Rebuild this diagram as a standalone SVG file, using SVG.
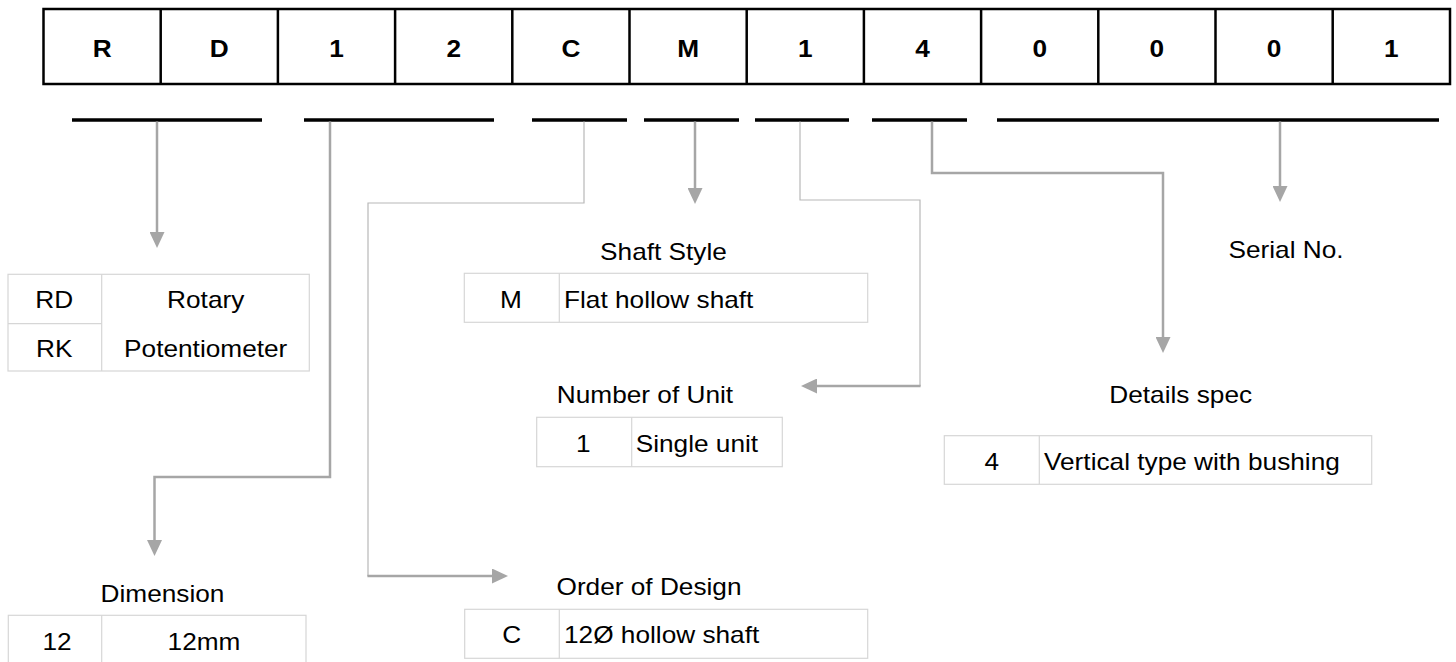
<svg xmlns="http://www.w3.org/2000/svg" width="1456" height="662" viewBox="0 0 1456 662">
<style>
text{font-family:"Liberation Sans",Arial,sans-serif;font-size:23px;fill:#000}
.b{font-weight:bold}
.m{text-anchor:middle}
.cell{fill:#fff;stroke:#000;stroke-width:2.5}
.bar{stroke:#000;stroke-width:3.6}
.tb{fill:#fff;stroke:#d6d6d6;stroke-width:1.2}
.tl{stroke:#d6d6d6;stroke-width:1.2}
.ct{fill:none;stroke:#a6a6a6;stroke-width:2.5}
.cn{fill:none;stroke:#b8b8b8;stroke-width:1.2}
</style>
<defs>
<marker id="ah" markerUnits="userSpaceOnUse" markerWidth="16" markerHeight="15" refX="0" refY="7.5" orient="auto" viewBox="0 0 16 15">
<path d="M0,0 L16,7.5 L0,15 z" fill="#a6a6a6"/>
</marker>
</defs>
<rect width="1456" height="662" fill="#fff"/>
<g id="code">
<rect class="cell" x="43.5" y="9" width="1406.5" height="75"/>
<path class="cell" d="M160.7,9V84M277.9,9V84M395.1,9V84M512.3,9V84M629.5,9V84M746.7,9V84M863.9,9V84M981.1,9V84M1098.3,9V84M1215.5,9V84M1332.7,9V84"/>
<text class="b m" transform="translate(102.1,57.3) scale(1.14,1)">R</text>
<text class="b m" transform="translate(219.3,57.3) scale(1.14,1)">D</text>
<text class="b m" transform="translate(336.5,57.3) scale(1.14,1)">1</text>
<text class="b m" transform="translate(453.7,57.3) scale(1.14,1)">2</text>
<text class="b m" transform="translate(570.9,57.3) scale(1.14,1)">C</text>
<text class="b m" transform="translate(688.1,57.3) scale(1.14,1)">M</text>
<text class="b m" transform="translate(805.3,57.3) scale(1.14,1)">1</text>
<text class="b m" transform="translate(922.5,57.3) scale(1.14,1)">4</text>
<text class="b m" transform="translate(1039.7,57.3) scale(1.14,1)">0</text>
<text class="b m" transform="translate(1156.9,57.3) scale(1.14,1)">0</text>
<text class="b m" transform="translate(1274.1,57.3) scale(1.14,1)">0</text>
<text class="b m" transform="translate(1391.3,57.3) scale(1.14,1)">1</text>
</g>
<g id="bars">
<path class="bar" d="M72,120H262M304,120H494M532,120H627M644,120H739M755,120H849M872,120H967M997,120H1439"/>
</g>
<g id="connectors">
<path class="ct" d="M157,121.5V232" marker-end="url(#ah)"/>
<path class="ct" d="M330,121.5V477H154.5V540" marker-end="url(#ah)"/>
<path class="cn" d="M584,121.5V203H368V576"/>
<path class="ct" d="M367.4,576H492" marker-end="url(#ah)"/>
<path class="ct" d="M695,121.5V188" marker-end="url(#ah)"/>
<path class="cn" d="M800,121.5V200H920V386"/>
<path class="ct" d="M920.6,386H817" marker-end="url(#ah)"/>
<path class="ct" d="M932,121.5V173H1163V337" marker-end="url(#ah)"/>
<path class="ct" d="M1280,121.5V186" marker-end="url(#ah)"/>
</g>
<g id="type">
<rect class="tb" x="8" y="274.3" width="301.3" height="96.7"/>
<path class="tl" d="M101.7,274.3V371M8,323.7H101.7"/>
<text class="m" transform="translate(54.3,308.3) scale(1.14,1)">RD</text>
<text class="m" transform="translate(54.3,356.7) scale(1.14,1)">RK</text>
<text class="m" transform="translate(205.7,308.3) scale(1.14,1)">Rotary</text>
<text class="m" transform="translate(205.7,356.7) scale(1.14,1)">Potentiometer</text>
</g>
<g id="dimension">
<text class="m" transform="translate(162.5,602.3) scale(1.14,1)">Dimension</text>
<rect class="tb" x="8.3" y="615.3" width="297.7" height="52"/>
<path class="tl" d="M101.7,615.3V667"/>
<text class="m" transform="translate(57,649.5) scale(1.14,1)">12</text>
<text class="m" transform="translate(204,649.5) scale(1.14,1)">12mm</text>
</g>
<g id="shaft-style">
<text class="m" transform="translate(663.5,260) scale(1.14,1)">Shaft Style</text>
<rect class="tb" x="464.3" y="273.3" width="403.4" height="49"/>
<path class="tl" d="M559.3,273.3V322.3"/>
<text class="m" transform="translate(511,308.3) scale(1.14,1)">M</text>
<text transform="translate(564,308.3) scale(1.14,1)">Flat hollow shaft</text>
</g>
<g id="number-of-unit">
<text class="m" transform="translate(645,403.3) scale(1.14,1)">Number of Unit</text>
<rect class="tb" x="536.7" y="417.3" width="245.6" height="49.4"/>
<path class="tl" d="M631.7,417.3V466.7"/>
<text class="m" transform="translate(583.3,452.3) scale(1.14,1)">1</text>
<text transform="translate(635.7,452.3) scale(1.14,1)">Single unit</text>
</g>
<g id="order-of-design">
<text class="m" transform="translate(649,595) scale(1.14,1)">Order of Design</text>
<rect class="tb" x="464.7" y="609.3" width="403" height="49"/>
<path class="tl" d="M559.3,609.3V658.3"/>
<text class="m" transform="translate(511.7,643.3) scale(1.14,1)">C</text>
<text transform="translate(564,643.3) scale(1.14,1)">12Ø hollow shaft</text>
</g>
<g id="details-spec">
<text class="m" transform="translate(1180.7,402.7) scale(1.14,1)">Details spec</text>
<rect class="tb" x="944.3" y="435.7" width="427.4" height="48.6"/>
<path class="tl" d="M1039.3,435.7V484.3"/>
<text class="m" transform="translate(991.7,470) scale(1.14,1)">4</text>
<text transform="translate(1044,470) scale(1.14,1)">Vertical type with bushing</text>
</g>
<g id="serial-no">
<text class="m" transform="translate(1286,258.3) scale(1.14,1)">Serial No.</text>
</g>
</svg>
